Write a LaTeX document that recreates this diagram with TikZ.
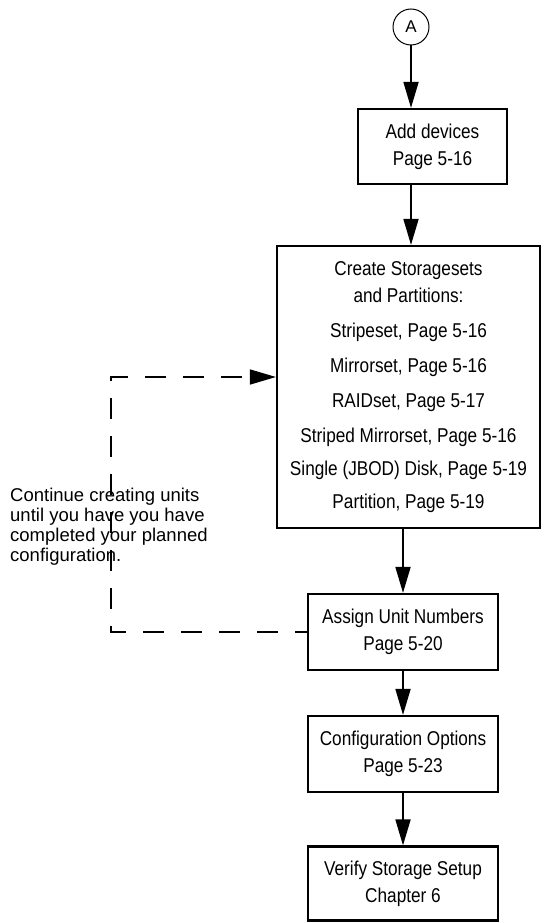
\documentclass[tikz,border=0pt]{standalone}
\usepackage{fontspec}
\setmainfont{Liberation Sans}
\newfontfamily\narrowfont[FakeStretch=0.86]{Liberation Sans}
\usetikzlibrary{arrows.meta}

\begin{document}
\begin{tikzpicture}[x=1pt, y=-1pt,
	block/.style={
		rectangle, draw=black, line width=2.2pt,
		inner sep=0pt, align=center,
		minimum width=190pt, minimum height=76pt,
		font=\narrowfont\fontsize{20}{27}\selectfont
	},
	line/.style={draw, line width=1.8pt, -{Triangle[length=26pt, width=15pt]}},
	loop/.style={draw, line width=1.6pt, dash pattern=on 21pt off 17pt, dash phase=9pt,
		-{Triangle[length=26pt, width=15pt]}},
	]
	\useasboundingbox (0,0) rectangle (546,923);

	\node [circle, draw, line width=1pt, minimum size=36pt, inner sep=0pt,
		font=\fontsize{17}{17}\selectfont] (ca) at (411,27) {A};
	\node [block, minimum width=149pt, minimum height=75pt] (add) at (432.5,146.5)
		{Add devices\\Page 5-16};
	\node [block, minimum width=263pt, minimum height=282pt] (create) at (408.5,387)
		{Create Storagesets\\and Partitions:\\[8pt]
		Stripeset, Page 5-16\\[8pt]
		Mirrorset, Page 5-16\\[8pt]
		RAIDset, Page 5-17\\[8pt]
		Striped Mirrorset, Page 5-16\\[6pt]
		Single (JBOD) Disk, Page 5-19\\[6pt]
		Partition, Page 5-19};
	\node [block] (assign) at (403,632) {Assign Unit Numbers\\Page 5-20};
	\node [block] (opts) at (403,754) {Configuration Options\\Page 5-23};
	\node [block, minimum height=74pt] (verify) at (403,883.5) {Verify Storage Setup\\Chapter 6};

	\node [anchor=west, align=left, inner sep=0pt,
		font=\fontsize{18.5}{20}\selectfont] (note) at (10,527)
		{Continue creating units\\until you have you have\\completed your planned\\configuration.};

	\path [line] (ca) -- (ca |- add.north);
	\path [line] (add.south -| ca) -- (ca |- create.north);
	\path [line] (assign |- create.south) -- (assign);
	\path [line] (assign) -- (opts);
	\path [line] (opts) -- (verify);

	% back to the storagesets while units are still to be made
	\coordinate (turn) at (111,377);
	\path [loop] (assign.west) -| (turn) -- (turn -| create.west);
\end{tikzpicture}
\end{document}
